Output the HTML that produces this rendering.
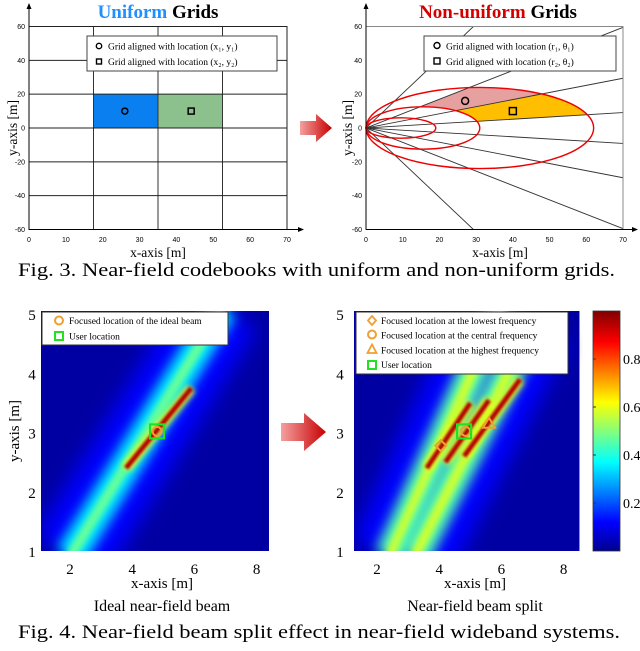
<!DOCTYPE html>
<html><head><meta charset="utf-8">
<style>
html,body{margin:0;padding:0;background:#fff;}
svg{display:block;}
.serif{font-family:"Liberation Serif",serif;}
.sans{font-family:"Liberation Sans",sans-serif;}
</style></head>
<body>
<svg id="fig" width="640" height="651" viewBox="0 0 640 651" xmlns="http://www.w3.org/2000/svg">
<defs>
  <linearGradient id="arrowGrad" x1="0" x2="1" y1="0" y2="0">
    <stop offset="0" stop-color="#f4a0a0"/><stop offset="1" stop-color="#c80000"/>
  </linearGradient>
  <linearGradient id="cbarGrad" x1="0" x2="0" y1="1" y2="0">
    <stop offset="0" stop-color="#00008f"/><stop offset="0.12" stop-color="#0000ff"/>
    <stop offset="0.37" stop-color="#00ffff"/><stop offset="0.62" stop-color="#ffff00"/>
    <stop offset="0.87" stop-color="#ff0000"/><stop offset="1" stop-color="#800000"/>
  </linearGradient>
  <filter id="blur10" filterUnits="userSpaceOnUse" x="0" y="0" width="640" height="651"><feGaussianBlur stdDeviation="10"/></filter>
  <filter id="blur6" filterUnits="userSpaceOnUse" x="0" y="0" width="640" height="651"><feGaussianBlur stdDeviation="6"/></filter>
  <filter id="blur3" filterUnits="userSpaceOnUse" x="0" y="0" width="640" height="651"><feGaussianBlur stdDeviation="3"/></filter>
  <filter id="blur1" filterUnits="userSpaceOnUse" x="0" y="0" width="640" height="651"><feGaussianBlur stdDeviation="1.2"/></filter>
  <clipPath id="clipL"><rect x="41" y="311" width="228" height="240"/></clipPath>
  <clipPath id="clipR"><rect x="354" y="311" width="229" height="240"/></clipPath>
  <clipPath id="clipTR"><rect x="366" y="27" width="257" height="203"/></clipPath>
</defs>
<g id="g-top-left"></g>
<g id="g-top-right"></g>
<g id="g-bot-left"></g>
<g id="g-bot-right"></g>
<g id="g-misc"></g>
</svg>
<script>
// ---- data ----
const topXTicks = [0,10,20,30,40,50,60,70];
const topYTicks = [60,40,20,0,-20,-40,-60];
const uniformGridX = [17.5,35,52.5];
const uniformGridY = [40,20,0,-20,-40];
const uniformCells = [[17.5,35,0,20,'#0a7ff0'],[35,52.5,0,20,'#8cc08c']];
const uniformPoints = [[26,10,'circle'],[44,10,'square']];
const raySlopes = [2.05,0.85,0.42,0.13,-0.13,-0.42,-0.85,-2.05];
const ellipseRanges = [19,31,62];
const ellipseHeights = [6,12.5,24];
const pinkSector = [0.42,0.85];
const orangeSector = [0.13,0.42];
const nonuniformPoints = [[27,16,'circle'],[40,10,'square']];
const botXTicks = [2,4,6,8];
const botYTicks = [1,2,3,4,5];
const cbarTicks = [0.2,0.4,0.6,0.8];
// beam bands: [x0,y0,x1,y1,level]
const idealWide = [[2.0,0.9,6.9,5.1,0.35]];
const idealCore = [[3.8,2.4,5.9,3.75,0.95]];
const splitWide = [[2.4,0.9,6.0,5.1,0.45],[3.2,0.9,7.0,4.8,0.45]];
const splitCore = [[3.6,2.4,5.0,3.5,0.95],[4.2,2.5,5.6,3.55,0.95],[4.8,2.6,6.6,3.9,0.95]];
const splitMarkers = [[4.05,2.78,'diamond'],[4.85,3.02,'circle'],[5.6,3.15,'triangle']];
const userLoc = [4.8,3.02];

const NS='http://www.w3.org/2000/svg';
function mk(parent,tag,attrs,text){const e=document.createElementNS(NS,tag);for(const k in attrs)e.setAttribute(k,attrs[k]);if(text!==undefined)e.textContent=text;parent.appendChild(e);return e;}
function jet(v){const s=[[0,[0,0,143]],[0.12,[0,0,255]],[0.37,[0,255,255]],[0.62,[255,255,0]],[0.87,[255,0,0]],[1,[128,0,0]]];
 for(let i=1;i<s.length;i++){if(v<=s[i][0]){const t=(v-s[i-1][0])/(s[i][0]-s[i-1][0]);const a=s[i-1][1],b=s[i][1];return `rgb(${a.map((c,j)=>Math.round(c+(b[j]-c)*t)).join(',')})`;}}return 'rgb(128,0,0)';}

// ---- top-left ----
(function(){
 const g=document.getElementById('g-top-left');
 const X=v=>29+v*258/70, Y=v=>128-v*203/120;
 uniformCells.forEach(c=>{const r=mk(g,'rect',{x:X(c[0]),y:Y(c[3]),width:X(c[1])-X(c[0]),height:Y(c[2])-Y(c[3]),fill:c[4]});
  });
 uniformGridX.forEach(v=>mk(g,'line',{x1:X(v),x2:X(v),y1:Y(60),y2:Y(-60),stroke:'#333','stroke-width':1}));
 uniformGridY.forEach(v=>mk(g,'line',{x1:X(0),x2:X(70),y1:Y(v),y2:Y(v),stroke:'#222','stroke-width':1}));
 mk(g,'rect',{x:X(0),y:Y(60),width:X(70)-X(0),height:Y(-60)-Y(60),fill:'none',stroke:'#222','stroke-width':1});
 mk(g,'line',{x1:X(0),x2:X(0),y1:Y(-60),y2:5,stroke:'#000'});mk(g,'path',{d:`M${X(0)-2.5},9 L${X(0)},3 L${X(0)+2.5},9Z`,fill:'#000'});
 mk(g,'line',{x1:X(0),x2:302,y1:Y(-60),y2:Y(-60),stroke:'#000'});mk(g,'path',{d:`M298,${Y(-60)-2.5} L304,${Y(-60)} L298,${Y(-60)+2.5}Z`,fill:'#000'});
 topXTicks.forEach(v=>{const t=mk(g,'text',{x:X(v),y:242,'font-size':7,'text-anchor':'middle',class:'sans'},v);});
 topYTicks.forEach(v=>{const t=mk(g,'text',{x:25,y:Y(v)+2.5,'font-size':7,'text-anchor':'end',class:'sans'},v);});
 uniformPoints.forEach(p=>{if(p[2]=='circle')mk(g,'circle',{cx:X(p[0]),cy:Y(p[1]),r:3,fill:'none',stroke:'#000','stroke-width':1.5});
  else mk(g,'rect',{x:X(p[0])-3,y:Y(p[1])-3,width:6,height:6,fill:'none',stroke:'#000','stroke-width':1.5});});
 const lg=mk(g,'g',{});
 mk(lg,'rect',{x:87,y:36,width:190,height:35,fill:'#fff',stroke:'#444'});
 mk(lg,'circle',{cx:99,cy:46,r:2.7,fill:'none',stroke:'#000','stroke-width':1.4});
 mk(lg,'rect',{x:96.5,y:59,width:5,height:5,fill:'none',stroke:'#000','stroke-width':1.4});
 mk(lg,'text',{x:108,y:49.5,'font-size':9.5,class:'serif'},'Grid aligned with location (x₁, y₁)');
 mk(lg,'text',{x:108,y:65,'font-size':9.5,class:'serif'},'Grid aligned with location (x₂, y₂)');
 const t=mk(g,'text',{x:158,y:18,'font-size':19,'font-weight':'bold','text-anchor':'middle',class:'serif'});
 mk(t,'tspan',{fill:'#1e90ff'},'Uniform');mk(t,'tspan',{fill:'#000'},' Grids');
 mk(g,'text',{x:158,y:257,'font-size':13.5,'text-anchor':'middle',class:'serif'},'x-axis [m]');
 mk(g,'text',{x:0,y:0,'font-size':13.5,'text-anchor':'middle',class:'serif',transform:'translate(17,128) rotate(-90)'},'y-axis [m]');
})();

// ---- top-right ----
(function(){
 const g=document.getElementById('g-top-right');
 const X=v=>366+v*257/70, Y=v=>128-v*203/120;
 const ell=i=>{const a=ellipseRanges[i]/2,b=ellipseHeights[i];return `M${X(0)},${Y(0)} a${a*257/70},${b*203/120} 0 1 0 ${X(2*a)-X(0)},0 a${a*257/70},${b*203/120} 0 1 0 ${X(0)-X(2*a)},0Z`;};
 function sector(sl,col,name){
  const id='clip'+name;const cp=mk(document.querySelector('defs'),'clipPath',{id:id});
  mk(cp,'path',{d:`M${X(0)},${Y(0)} L${X(70)},${Y(70*sl[0])} L${X(70)},${Y(70*sl[1])}Z`});
  const p=mk(g,'path',{d:ell(2)+' '+ell(1),'fill-rule':'evenodd',fill:col,'clip-path':`url(#${id})`});
  
 }
 sector(pinkSector,'#e7a0a0','pink');sector(orangeSector,'#ffbf00','orange');
 const rg=mk(g,'g',{'clip-path':'url(#clipTR)'});
 raySlopes.forEach(s=>{const l=mk(rg,'line',{x1:X(0),y1:Y(0),x2:X(100),y2:Y(100*s),stroke:'#333','stroke-width':0.9});});
 ellipseRanges.forEach((r,i)=>{const e=mk(g,'path',{d:ell(i),fill:'none',stroke:'#e00','stroke-width':1.4});});
 mk(g,'rect',{x:X(0),y:Y(60),width:X(70)-X(0),height:Y(-60)-Y(60),fill:'none',stroke:'#888','stroke-width':1});
 mk(g,'line',{x1:X(0),x2:X(0),y1:Y(-60),y2:5,stroke:'#000'});mk(g,'path',{d:`M${X(0)-2.5},9 L${X(0)},3 L${X(0)+2.5},9Z`,fill:'#000'});
 mk(g,'line',{x1:X(0),x2:636,y1:Y(-60),y2:Y(-60),stroke:'#000'});mk(g,'path',{d:`M632,${Y(-60)-2.5} L638,${Y(-60)} L632,${Y(-60)+2.5}Z`,fill:'#000'});
 topXTicks.forEach(v=>{const t=mk(g,'text',{x:X(v),y:242,'font-size':7,'text-anchor':'middle',class:'sans'},v);});
 topYTicks.forEach(v=>{const t=mk(g,'text',{x:362,y:Y(v)+2.5,'font-size':7,'text-anchor':'end',class:'sans'},v);});
 nonuniformPoints.forEach(p=>{if(p[2]=='circle')mk(g,'circle',{cx:X(p[0]),cy:Y(p[1]),r:3.5,fill:'none',stroke:'#000','stroke-width':1.5});
  else mk(g,'rect',{x:X(p[0])-3.5,y:Y(p[1])-3.5,width:7,height:7,fill:'none',stroke:'#000','stroke-width':1.5});});
 const lg=mk(g,'g',{});
 mk(lg,'rect',{x:424,y:36,width:192,height:35,fill:'#fff',stroke:'#444'});
 mk(lg,'circle',{cx:437,cy:45.5,r:3,fill:'none',stroke:'#000','stroke-width':1.4});
 mk(lg,'rect',{x:434,y:58,width:6,height:6,fill:'none',stroke:'#000','stroke-width':1.4});
 mk(lg,'text',{x:446,y:49.5,'font-size':9.5,class:'serif'},'Grid aligned with location (r₁, θ₁)');
 mk(lg,'text',{x:446,y:65,'font-size':9.5,class:'serif'},'Grid aligned with location (r₂, θ₂)');
 const t=mk(g,'text',{x:498,y:18,'font-size':19,'font-weight':'bold','text-anchor':'middle',class:'serif'});
 mk(t,'tspan',{fill:'#d40000'},'Non-uniform');mk(t,'tspan',{fill:'#000'},' Grids');
 mk(g,'text',{x:500,y:257,'font-size':13.5,'text-anchor':'middle',class:'serif'},'x-axis [m]');
 mk(g,'text',{x:0,y:0,'font-size':13.5,'text-anchor':'middle',class:'serif',transform:'translate(352,128) rotate(-90)'},'y-axis [m]');
})();

// ---- bottom heatmaps ----
function heat(gid,x0px,clip,wide,core){
 const g=document.getElementById(gid);
 const X=v=>x0px+(v-2)*31.1, Y=v=>551-(v-1)*59.2;
 const hg=mk(g,'g',{'clip-path':`url(#${clip})`});
 mk(hg,'rect',{x:X(1.05)-2,y:311,width:234,height:240,fill:jet(0.02)});
 const band=(b,w,blur,lvl,name)=>{const l=mk(hg,'line',{x1:X(b[0]),y1:Y(b[1]),x2:X(b[2]),y2:Y(b[3]),stroke:jet(lvl),'stroke-width':w,'stroke-linecap':'butt',filter:`url(#${blur})`});};
 wide.forEach(b=>band(b,80,'blur10',0.12,'beam-halo'));
 wide.forEach(b=>{band(b,30,'blur6',b[4],'beam-band');band(b,10,'blur3',b[4]+0.12,'beam-band-ridge');});
 core.forEach(b=>{band(b,10,'blur3',0.6,'beam-core-glow');band(b,5,'blur1',b[4],'beam-core');});
 return {g,X,Y};
}
(function(){
 const {g,X,Y}=heat('g-bot-left',70,'clipL',idealWide,idealCore);
 botXTicks.forEach(v=>{const t=mk(g,'text',{x:X(v),y:574,'font-size':15,'text-anchor':'middle',class:'serif'},v);});
 botYTicks.forEach(v=>{const t=mk(g,'text',{x:32,y:Y(v)+6,'font-size':15,'text-anchor':'middle',class:'serif'},v);});
 mk(g,'circle',{cx:X(userLoc[0]),cy:Y(userLoc[1]),r:4.5,fill:'none',stroke:'#f0a030','stroke-width':2});
 const u=mk(g,'rect',{x:X(userLoc[0])-7,y:Y(userLoc[1])-7,width:14,height:14,fill:'none',stroke:'#22e022','stroke-width':2.2});
 const lg=mk(g,'g',{});
 mk(lg,'rect',{x:42,y:312,width:186,height:33,fill:'#fff',stroke:'#333'});
 mk(lg,'circle',{cx:59,cy:320.5,r:4,fill:'none',stroke:'#f0a030','stroke-width':2});
 mk(lg,'rect',{x:55,y:332,width:8,height:8,fill:'none',stroke:'#22e022','stroke-width':2});
 mk(lg,'text',{x:69,y:324,'font-size':9.5,class:'serif'},'Focused location of the ideal beam');
 mk(lg,'text',{x:69,y:339.5,'font-size':9.5,class:'serif'},'User location');
 mk(g,'text',{x:162,y:588,'font-size':15,'text-anchor':'middle',class:'serif'},'x-axis [m]');
 mk(g,'text',{x:162,y:611,'font-size':16,'text-anchor':'middle',class:'serif'},'Ideal near-field beam');
 mk(g,'text',{x:0,y:0,'font-size':15,'text-anchor':'middle',class:'serif',transform:'translate(19,431) rotate(-90)'},'y-axis [m]');
})();
(function(){
 const {g,X,Y}=heat('g-bot-right',377,'clipR',splitWide,splitCore);
 botXTicks.forEach(v=>{const t=mk(g,'text',{x:X(v),y:574,'font-size':15,'text-anchor':'middle',class:'serif'},v);});
 botYTicks.forEach(v=>{const t=mk(g,'text',{x:340,y:Y(v)+6,'font-size':15,'text-anchor':'middle',class:'serif'},v);});
 const oc='#f0a030';
 splitMarkers.forEach(m=>{const cx=X(m[0]),cy=Y(m[1]);let e;
  if(m[2]=='diamond')e=mk(g,'path',{d:`M${cx},${cy-5.5} L${cx+5.5},${cy} L${cx},${cy+5.5} L${cx-5.5},${cy}Z`,fill:'none',stroke:oc,'stroke-width':2});
  else if(m[2]=='circle')e=mk(g,'circle',{cx,cy,r:4.5,fill:'none',stroke:oc,'stroke-width':2});
  else e=mk(g,'path',{d:`M${cx},${cy-6} L${cx+6},${cy+4} L${cx-6},${cy+4}Z`,fill:'none',stroke:oc,'stroke-width':2});
  });
 const u=mk(g,'rect',{x:X(userLoc[0])-7,y:Y(userLoc[1])-7,width:14,height:14,fill:'none',stroke:'#22e022','stroke-width':2.2});
 const lg=mk(g,'g',{});
 mk(lg,'rect',{x:356,y:312,width:212,height:62,fill:'#fff',stroke:'#333'});
 mk(lg,'path',{d:'M372,316 L376,320.5 L372,325 L368,320.5Z',fill:'none',stroke:oc,'stroke-width':1.8});
 mk(lg,'circle',{cx:372,cy:334.5,r:4,fill:'none',stroke:oc,'stroke-width':2});
 mk(lg,'path',{d:'M372,344.5 L376.5,353 L367.5,353Z',fill:'none',stroke:oc,'stroke-width':1.8});
 mk(lg,'rect',{x:368,y:361,width:8,height:8,fill:'none',stroke:'#22e022','stroke-width':2});
 const items=['Focused location at the lowest frequency','Focused location at the central frequency','Focused location at the highest frequency','User location'];
 items.forEach((s,i)=>mk(lg,'text',{x:381,y:324+i*14.7,'font-size':9.5,class:'serif'},s));
 const cb=mk(g,'rect',{x:593,y:311,width:27,height:240,fill:'url(#cbarGrad)',stroke:'#333','stroke-width':0.8});
 cbarTicks.forEach(v=>{const y=551-v*240;mk(g,'line',{x1:593,x2:596,y1:y,y2:y,stroke:'#333'});const t=mk(g,'text',{x:623,y:y+5,'font-size':14,class:'serif'},v);});
 mk(g,'text',{x:475,y:588,'font-size':15,'text-anchor':'middle',class:'serif'},'x-axis [m]');
 mk(g,'text',{x:475,y:611,'font-size':16,'text-anchor':'middle',class:'serif'},'Near-field beam split');
})();

// ---- misc ----
(function(){
 const g=document.getElementById('g-misc');
 const a1=mk(g,'path',{d:'M300,121 L316,121 L316,114 L332,128 L316,142 L316,135 L300,135Z',fill:'url(#arrowGrad)'});
 const a2=mk(g,'path',{d:'M281,423 L304,423 L304,413 L326,432 L304,451 L304,441 L281,441Z',fill:'url(#arrowGrad)'});
 const c1=mk(g,'text',{x:18,y:276,'font-size':18.5,class:'serif',textLength:597,lengthAdjust:'spacingAndGlyphs'},'Fig. 3.  Near-field codebooks with uniform and non-uniform grids.');
 const c2=mk(g,'text',{x:18,y:638,'font-size':18.5,class:'serif',textLength:602,lengthAdjust:'spacingAndGlyphs'},'Fig. 4.   Near-field beam split effect in near-field wideband systems.');
})();
</script>
</body></html>
